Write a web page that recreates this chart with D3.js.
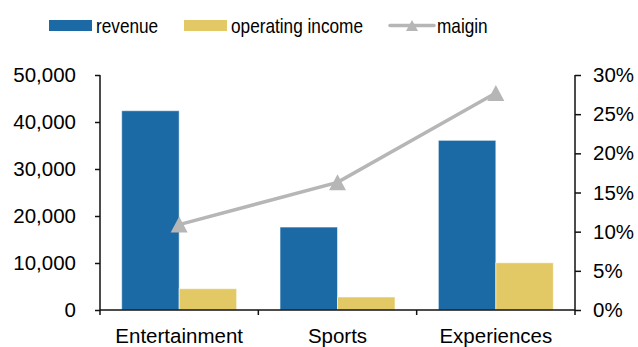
<!DOCTYPE html>
<html>
<head>
<meta charset="utf-8">
<script src="https://cdn.jsdelivr.net/npm/d3@7"></script>
<style>
  html, body { margin: 0; padding: 0; background: #fff; }
  svg { display: block; font-family: "Liberation Sans", Arial, sans-serif; }
</style>
</head>
<body>
<svg id="chart" width="638" height="347"></svg>
<script>
// Segment data
const categories = ["Entertainment", "Sports", "Experiences"];
const revenue = [42400, 17650, 36100];
const operatingIncome = [4530, 2770, 10050];
const margin = [0.109, 0.163, 0.277];
const leftTicks = [0, 10000, 20000, 30000, 40000, 50000];
const rightTicks = [0, 0.05, 0.10, 0.15, 0.20, 0.25, 0.30];
const seriesNames = ["revenue", "operating income", "maigin"];

const colors = { revenue: "#1b6aa5", income: "#e3c866", margin: "#b6b6b6" };

const svg = d3.select("#chart");
const plot = { left: 100, right: 575, top: 75, bottom: 310 };

const x = d3.scaleBand()
  .domain(categories)
  .range([plot.left, plot.right])
  .paddingInner(0.274)
  .paddingOuter(0.137);

const sub = d3.scaleBand()
  .domain(["revenue", "income"])
  .range([0, x.bandwidth()]);

const yL = d3.scaleLinear().domain([0, 50000]).range([plot.bottom, plot.top]);
const yR = d3.scaleLinear().domain([0, 0.30]).range([plot.bottom, plot.top]);

// Bars
const groups = svg.append("g").selectAll("g")
  .data(categories)
  .join("g")
  .attr("transform", d => `translate(${x(d)},0)`);

groups.append("rect")
  .attr("x", sub("revenue"))
  .attr("width", sub.bandwidth())
  .attr("y", (d, i) => yL(revenue[i]))
  .attr("height", (d, i) => yL(0) - yL(revenue[i]))
  .attr("fill", colors.revenue)
  .attr("stroke", "rgba(255,255,255,0.55)")
  .attr("stroke-width", 1);

groups.append("rect")
  .attr("x", sub("income"))
  .attr("width", sub.bandwidth())
  .attr("y", (d, i) => yL(operatingIncome[i]))
  .attr("height", (d, i) => yL(0) - yL(operatingIncome[i]))
  .attr("fill", colors.income)
  .attr("stroke", "rgba(255,255,255,0.55)")
  .attr("stroke-width", 1);

// Axes
const axisColor = "#111";
const leftAxis = svg.append("g")
  .attr("transform", `translate(${plot.left},0)`)
  .call(d3.axisLeft(yL).tickValues(leftTicks).tickSize(5).tickPadding(19)
    .tickFormat(d3.format(",")));

const rightAxis = svg.append("g")
  .attr("transform", `translate(${plot.right},0)`)
  .call(d3.axisRight(yR).tickValues(rightTicks).tickSize(6).tickPadding(12)
    .tickFormat(d3.format(".0%")));

[leftAxis, rightAxis].forEach(a => {
  a.select(".domain").attr("stroke", axisColor).attr("stroke-width", 1.5)
    .attr("d", `M0,${plot.top}V${plot.bottom}`);
  a.selectAll(".tick line").attr("stroke", axisColor).attr("stroke-width", 1.5);
  a.selectAll(".tick text").attr("fill", "#000").attr("font-size", 20.5)
    .attr("font-family", "Liberation Sans, Arial, sans-serif");
});

// Category axis: labels centred on bands, ticks on band boundaries
const bottomAxis = svg.append("g")
  .attr("transform", `translate(0,${plot.bottom})`)
  .call(d3.axisBottom(x).tickSize(0).tickPadding(18));
bottomAxis.select(".domain").attr("stroke", axisColor).attr("stroke-width", 1.5)
  .attr("d", `M${plot.left},0H${plot.right}`);
bottomAxis.selectAll(".tick text").attr("fill", "#000").attr("font-size", 20.5)
  .attr("font-family", "Liberation Sans, Arial, sans-serif");

const gap = (x.step() - x.bandwidth()) / 2;
const boundaries = categories.map(c => x(c) - gap).concat([x(categories[categories.length - 1]) + x.bandwidth() + gap]);
bottomAxis.selectAll("line.boundary")
  .data(boundaries)
  .join("line")
  .attr("class", "boundary")
  .attr("x1", d => d).attr("x2", d => d)
  .attr("y1", 0).attr("y2", 5)
  .attr("stroke", axisColor).attr("stroke-width", 1.5);

// Margin line with triangle markers
const cx = (d, i) => x(categories[i]) + x.bandwidth() / 2;
const line = d3.line()
  .x((d, i) => cx(d, i))
  .y(d => yR(d));

svg.append("path")
  .datum(margin)
  .attr("d", line)
  .attr("fill", "none")
  .attr("stroke", colors.margin)
  .attr("stroke-width", 3.5);

const tri = (w, h) => `M0,${-h / 2}L${w / 2},${h / 2}L${-w / 2},${h / 2}Z`;
svg.append("g").selectAll("path")
  .data(margin)
  .join("path")
  .attr("d", tri(17, 16))
  .attr("transform", (d, i) => `translate(${cx(d, i)},${yR(d)})`)
  .attr("fill", colors.margin);

// Legend (condensed lettering)
const legend = svg.append("g")
  .attr("font-size", 21)
  .attr("fill", "#000");
const legendItems = [
  { name: seriesNames[0], x: 49, type: "rect", color: colors.revenue },
  { name: seriesNames[1], x: 184, type: "rect", color: colors.income },
  { name: seriesNames[2], x: 390, type: "line", color: colors.margin }
];
legendItems.forEach(item => {
  if (item.type === "rect") {
    legend.append("rect")
      .attr("x", item.x).attr("y", 20)
      .attr("width", 43).attr("height", 11)
      .attr("fill", item.color);
  } else {
    legend.append("line")
      .attr("x1", item.x).attr("x2", item.x + 44)
      .attr("y1", 25.5).attr("y2", 25.5)
      .attr("stroke", item.color).attr("stroke-width", 3.5)
      .attr("stroke-linecap", "round");
    legend.append("path")
      .attr("d", tri(12, 11))
      .attr("transform", `translate(${item.x + 22},${25.5})`)
      .attr("fill", item.color);
  }
  legend.append("text")
    .attr("transform", `translate(${item.x + 47},33) scale(0.82,1)`)
    .text(item.name);
});
</script>
</body>
</html>
